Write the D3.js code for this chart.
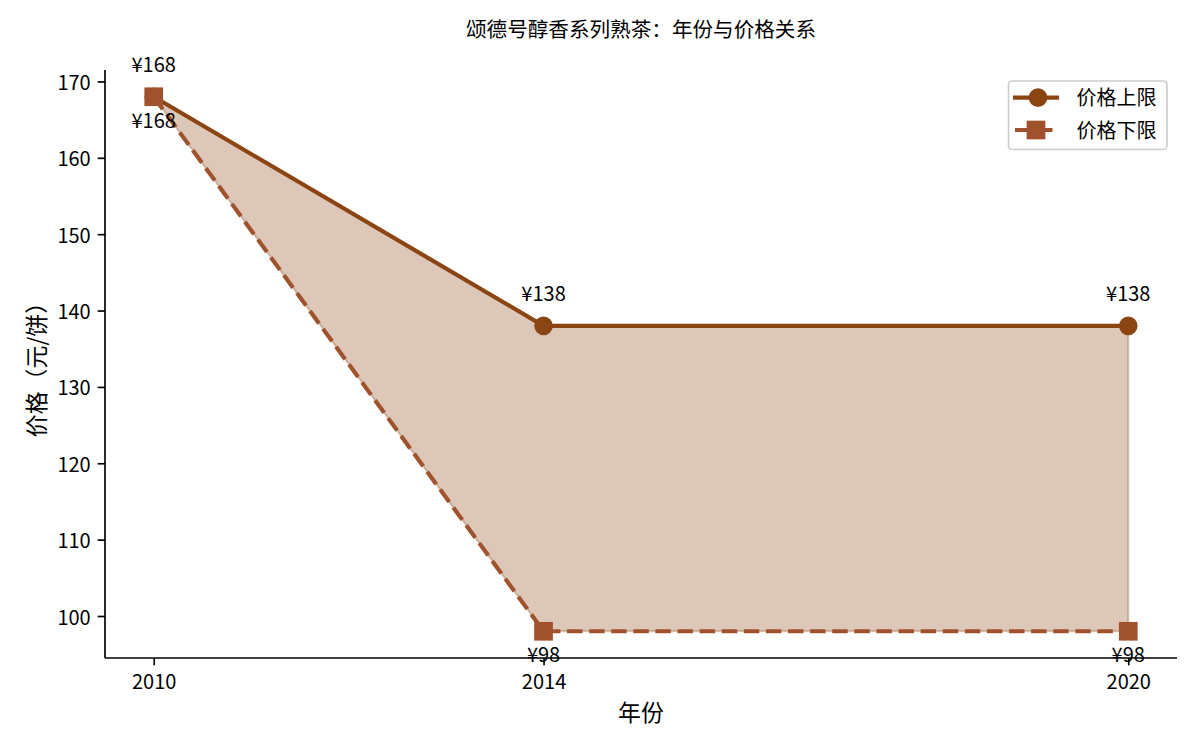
<!DOCTYPE html>
<html>
<head>
<meta charset="utf-8">
<script src="https://cdn.jsdelivr.net/npm/d3@7/dist/d3.min.js"></script>
<style>
  body { margin: 0; background: #fff; }
  text { font-family: "Noto Sans CJK SC", "Noto Sans", sans-serif; fill: #000; }
</style>
</head>
<body>
<div id="chart"></div>
<script>
// chart data
var years = [2010, 2014, 2020];
var upperPrices = [168, 138, 138];
var lowerPrices = [168, 98, 98];
var yTicks = [100, 110, 120, 130, 140, 150, 160, 170];
var seriesNames = ['价格上限', '价格下限'];

var titleText = '颂德号醇香系列熟茶：年份与价格关系';
var xLabelText = '年份';
var yLabelParts = ['价格', '（', '元/饼', '）'];

// svg size
var svgWidth = 1200;
var svgHeight = 750;

// plot area borders
var margin = { top: 70, right: 23, bottom: 92, left: 105 };
var width = svgWidth - margin.left - margin.right;
var height = svgHeight - margin.top - margin.bottom;

var upperColor = '#8B4513';
var lowerColor = '#A0522D';

var svg = d3.select('#chart')
    .append('svg')
    .attr('width', svgWidth)
    .attr('height', svgHeight);

var chartGroup = svg.append('g')
    .attr('transform', `translate(${margin.left}, ${margin.top})`);

// scales, padded 5% like matplotlib
var xLinearScale = d3.scaleLinear()
    .domain([2009.5, 2020.5])
    .range([0, width]);

var yLinearScale = d3.scaleLinear()
    .domain([94.5, 171.5])
    .range([height, 0]);

var rows = years.map(function(y, i) {
    return { year: y, hi: upperPrices[i], lo: lowerPrices[i] };
});

// shaded band between the two lines
var area = d3.area()
    .x(d => xLinearScale(d.year))
    .y0(d => yLinearScale(d.lo))
    .y1(d => yLinearScale(d.hi));

chartGroup.append('path')
    .datum(rows)
    .attr('d', area)
    .attr('fill', upperColor)
    .attr('fill-opacity', 0.3)
    .attr('stroke', upperColor)
    .attr('stroke-opacity', 0.3)
    .attr('stroke-width', 2);

// axes
var bottomAxis = d3.axisBottom(xLinearScale)
    .tickValues(years)
    .tickFormat(d3.format('d'))
    .tickSize(7.3)
    .tickPadding(7);

var leftAxis = d3.axisLeft(yLinearScale)
    .tickValues(yTicks)
    .tickSize(7.3)
    .tickPadding(7);

var xAxis = chartGroup.append('g')
    .attr('transform', `translate(0, ${height})`)
    .call(bottomAxis);

var yAxis = chartGroup.append('g')
    .call(leftAxis);

[xAxis, yAxis].forEach(function(ax) {
    ax.select('.domain').attr('stroke', '#000').attr('stroke-width', 1.67);
    ax.selectAll('.tick line').attr('stroke', '#000').attr('stroke-width', 1.67);
    ax.selectAll('.tick text')
        .attr('font-family', '"Noto Sans CJK SC", "Noto Sans", sans-serif')
        .attr('font-size', '20px')
        .attr('fill', '#000');
});
// remove outer ticks on domain path ends
xAxis.select('.domain').attr('d', `M0,0H${width}`);
yAxis.select('.domain').attr('d', `M0,${height}V0`);

xAxis.selectAll('.tick text').attr('dy', null).attr('y', 31);
yAxis.selectAll('.tick text').attr('dy', null).attr('y', 8);

// lines
var upperLine = d3.line()
    .x(d => xLinearScale(d.year))
    .y(d => yLinearScale(d.hi));

var lowerLine = d3.line()
    .x(d => xLinearScale(d.year))
    .y(d => yLinearScale(d.lo));

chartGroup.append('path')
    .datum(rows)
    .attr('d', upperLine)
    .attr('fill', 'none')
    .attr('stroke', upperColor)
    .attr('stroke-width', 4.17);

chartGroup.selectAll('.hiDot')
    .data(rows)
    .enter()
    .append('circle')
    .attr('cx', d => xLinearScale(d.year))
    .attr('cy', d => yLinearScale(d.hi))
    .attr('r', 8.33)
    .attr('fill', upperColor)
    .attr('stroke', upperColor)
    .attr('stroke-width', 2);

chartGroup.append('path')
    .datum(rows)
    .attr('d', lowerLine)
    .attr('fill', 'none')
    .attr('stroke', lowerColor)
    .attr('stroke-width', 4.17)
    .attr('stroke-dasharray', '15.4,6.7');

chartGroup.selectAll('.loSquare')
    .data(rows)
    .enter()
    .append('rect')
    .attr('x', d => xLinearScale(d.year) - 8.33)
    .attr('y', d => yLinearScale(d.lo) - 8.33)
    .attr('width', 16.67)
    .attr('height', 16.67)
    .attr('fill', lowerColor)
    .attr('stroke', lowerColor)
    .attr('stroke-width', 2);

// value labels
chartGroup.selectAll('.hiText')
    .data(rows)
    .enter()
    .append('text')
    .attr('x', d => xLinearScale(d.year))
    .attr('y', d => yLinearScale(d.hi) - 25)
    .attr('text-anchor', 'middle')
    .attr('font-size', '20px')
    .text(d => '¥' + d.hi);

chartGroup.selectAll('.loText')
    .data(rows)
    .enter()
    .append('text')
    .attr('x', d => xLinearScale(d.year))
    .attr('y', d => yLinearScale(d.lo) + 31)
    .attr('text-anchor', 'middle')
    .attr('font-size', '20px')
    .text(d => '¥' + d.lo);

// title and axis labels
svg.append('text')
    .attr('x', margin.left + width / 2)
    .attr('y', 37)
    .attr('text-anchor', 'middle')
    .attr('font-size', '20.6px')
    .text(titleText);

svg.append('text')
    .attr('x', margin.left + width / 2)
    .attr('y', 721)
    .attr('text-anchor', 'middle')
    .attr('font-size', '22.9px')
    .text(xLabelText);

// y label built piece by piece so the full-width brackets keep a full em box
var yLabelSize = 22.9;
var yLabelGroup = svg.append('g')
    .attr('transform', `translate(45, ${margin.top + height / 2}) rotate(-90)`);
var yLabelInner = yLabelGroup.append('g');
var cursor = 0;
yLabelParts.forEach(function(part) {
    var isBracket = part === '（' || part === '）';
    var t = yLabelInner.append('text')
        .attr('font-size', yLabelSize + 'px')
        .text(part);
    if (isBracket) {
        t.attr('text-anchor', 'middle').attr('x', cursor + yLabelSize / 2);
        cursor += yLabelSize;
    } else {
        t.attr('x', cursor);
        cursor += t.node().getComputedTextLength();
    }
});
yLabelInner.attr('transform', `translate(${-cursor / 2}, 0)`);

// legend
var legend = svg.append('g')
    .attr('transform', 'translate(1008.5, 81)');

legend.append('rect')
    .attr('width', 158.5)
    .attr('height', 68.5)
    .attr('rx', 4)
    .attr('fill', '#fff')
    .attr('fill-opacity', 0.8)
    .attr('stroke', '#ccc')
    .attr('stroke-width', 1.67);

var legendRows = [
    { name: seriesNames[0], color: upperColor, dash: null, shape: 'circle', y: 16.7 },
    { name: seriesNames[1], color: lowerColor, dash: '15.4,6.7', shape: 'square', y: 49 }
];

legendRows.forEach(function(r) {
    legend.append('line')
        .attr('x1', 6.5)
        .attr('x2', 48.5)
        .attr('y1', r.y)
        .attr('y2', r.y)
        .attr('stroke', r.color)
        .attr('stroke-width', 4.17)
        .attr('stroke-linecap', r.dash ? 'butt' : 'square')
        .attr('stroke-dasharray', r.dash);
    if (r.shape === 'circle') {
        legend.append('circle')
            .attr('cx', 29.5)
            .attr('cy', r.y)
            .attr('r', 8.33)
            .attr('fill', r.color)
            .attr('stroke', r.color)
            .attr('stroke-width', 2);
    } else {
        legend.append('rect')
            .attr('x', 27.5 - 8.33)
            .attr('y', r.y - 8.33)
            .attr('width', 16.67)
            .attr('height', 16.67)
            .attr('fill', r.color)
            .attr('stroke', r.color)
            .attr('stroke-width', 2);
    }
    legend.append('text')
        .attr('x', 68)
        .attr('y', r.y + 7.5)
        .attr('font-size', '20px')
        .text(r.name);
});
</script>
</body>
</html>
